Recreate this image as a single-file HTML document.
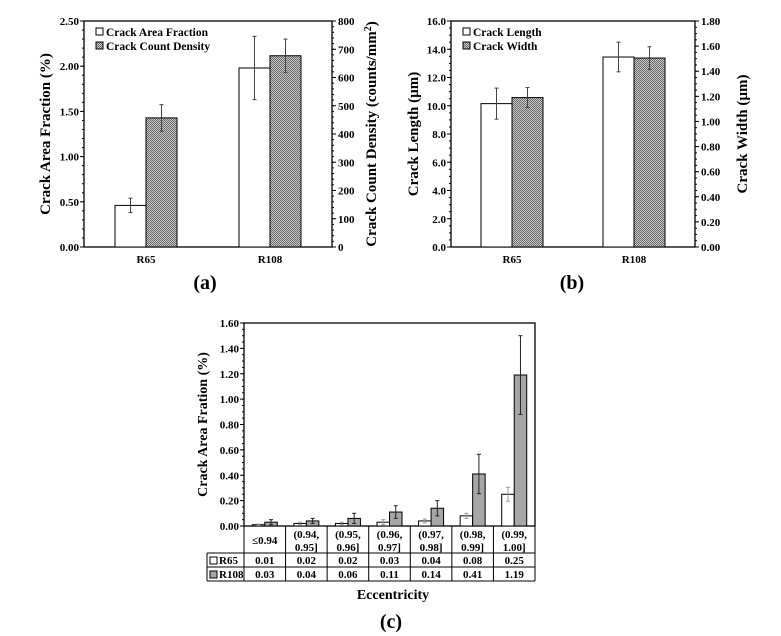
<!DOCTYPE html>
<html><head><meta charset="utf-8"><style>
body{margin:0;background:#fff;}
svg{display:block;font-family:"Liberation Serif",serif;font-weight:bold;}
</style></head><body>
<svg id="s" width="781" height="636" viewBox="0 0 781 636" xmlns="http://www.w3.org/2000/svg">
<defs>
<pattern id="hatch" width="2" height="2" patternUnits="userSpaceOnUse">
<rect width="2" height="2" fill="#c8c8c8"/><rect width="1" height="1" fill="#6a6a6a"/><rect x="1" y="1" width="1" height="1" fill="#6a6a6a"/>
</pattern>
</defs>
</svg>
<script>
// Panel (a)
const catsA = ["R65","R108"];
const areaA = [0.46,1.98];
const areaErrA = [0.08,0.35];
const countA = [457,677];
const countErrA = [47,59];
const ticksAL = ["0.00","0.50","1.00","1.50","2.00","2.50"];
const ticksAR = ["0","100","200","300","400","500","600","700","800"];
// Panel (b)
const catsB = ["R65","R108"];
const lenB = [10.15,13.45];
const lenErrB = [1.1,1.05];
const widB = [1.19,1.505];
const widErrB = [0.08,0.09];
const ticksBL = ["0.0","2.0","4.0","6.0","8.0","10.0","12.0","14.0","16.0"];
const ticksBR = ["0.00","0.20","0.40","0.60","0.80","1.00","1.20","1.40","1.60","1.80"];
// Panel (c)
const catsC = [["≤0.94"],["(0.94,","0.95]"],["(0.95,","0.96]"],["(0.96,","0.97]"],["(0.97,","0.98]"],["(0.98,","0.99]"],["(0.99,","1.00]"]];
const r65C = [0.01,0.02,0.02,0.03,0.04,0.08,0.25];
const r65ErrC = [0.005,0.01,0.01,0.02,0.015,0.02,0.055];
const r108C = [0.03,0.04,0.06,0.11,0.14,0.41,1.19];
const r108ErrC = [0.02,0.02,0.04,0.05,0.06,0.155,0.31];
const ticksC = ["0.00","0.20","0.40","0.60","0.80","1.00","1.20","1.40","1.60"];

const S = document.getElementById('s');
const NS = "http://www.w3.org/2000/svg";
function el(tag, at, txt){const e=document.createElementNS(NS,tag);for(const k in at)e.setAttribute(k,at[k]);if(txt!==undefined)e.textContent=txt;S.appendChild(e);return e;}
function line(x1,y1,x2,y2,c,w){return el('line',{x1,y1,x2,y2,stroke:c||'#000','stroke-width':w||1});}

function dualPanel(o){
  const {L,R,T,B,cats,v1,e1,v2,e2,max1,max2,t1,t2,minor1,minor2,lab1,lab2,leg1,leg2,tag,tagX,lab1X,lab2X,pre,bw} = o;
  const y1=v=>B-(v/max1)*(B-T), y2=v=>B-(v/max2)*(B-T);
  const cw=(R-L)/cats.length;
  const fr=el('rect',{x:L,y:T,width:R-L,height:B-T,fill:'none',stroke:'#000','stroke-width':1.3});
  
  t1.forEach((t,i)=>{const y=B-i*(B-T)/(t1.length-1);line(L-4,y,L,y);
    const tx=el('text',{x:L-5,y:y+4,'font-size':11,'text-anchor':'end'},t);
    });
  for(let i=0;i<=minor1;i++){const y=B-i*(B-T)/minor1;line(L-2,y,L,y);}
  t2.forEach((t,i)=>{const y=B-i*(B-T)/(t2.length-1);line(R,y,R+4,y);
    const tx=el('text',{x:R+6,y:y+4,'font-size':11,'text-anchor':'start'},t);
    });
  for(let i=0;i<=minor2;i++){const y=B-i*(B-T)/minor2;line(R,y,R+2,y);}
  cats.forEach((c,i)=>{
    const cx=L+cw*(i+0.5);
    const b1=el('rect',{x:cx-bw,y:y1(v1[i]),width:bw,height:B-y1(v1[i]),fill:'#fff',stroke:'#000','stroke-width':1});
    
    const b2=el('rect',{x:cx,y:y2(v2[i]),width:bw,height:B-y2(v2[i]),fill:'url(#hatch)',stroke:'#000','stroke-width':1});
    
    const ex1=cx-bw/2, ex2=cx+bw/2;
    line(ex1,y1(v1[i]-e1[i]),ex1,y1(v1[i]+e1[i]),'#444',1);line(ex1-2,y1(v1[i]-e1[i]),ex1+2,y1(v1[i]-e1[i]),'#444');line(ex1-2,y1(v1[i]+e1[i]),ex1+2,y1(v1[i]+e1[i]),'#444');
    line(ex2,y2(v2[i]-e2[i]),ex2,y2(v2[i]+e2[i]),'#444',1);line(ex2-2,y2(v2[i]-e2[i]),ex2+2,y2(v2[i]-e2[i]),'#444');line(ex2-2,y2(v2[i]+e2[i]),ex2+2,y2(v2[i]+e2[i]),'#444');
    const ct=el('text',{x:cx,y:B+16,'font-size':11,'text-anchor':'middle'},c);
    
  });
  const a1=el('text',{transform:`translate(${lab1X},${(T+B)/2}) rotate(-90)`,'font-size':15,'text-anchor':'middle'},lab1);
  
  const a2=el('text',{transform:`translate(${lab2X},${(T+B)/2}) rotate(-90)`,'font-size':15,'text-anchor':'middle'});
  
  a2.innerHTML=lab2;
  const lx=L+12;
  const r1=el('rect',{x:lx,y:T+7,width:7,height:7,fill:'#fff',stroke:'#000'});
  
  const l1=el('text',{x:lx+10,y:T+15,'font-size':11.5},leg1);
  
  const r2=el('rect',{x:lx,y:T+21,width:7,height:7,fill:'url(#hatch)',stroke:'#000'});
  
  const l2=el('text',{x:lx+10,y:T+29,'font-size':11.5},leg2);
  
  const tg=el('text',{x:tagX,y:289,'font-size':20,'text-anchor':'middle'},tag);
  
}

dualPanel({L:84,R:332,T:21,B:247,cats:catsA,v1:areaA,e1:areaErrA,v2:countA,e2:countErrA,max1:2.5,max2:800,
  t1:ticksAL,t2:ticksAR,minor1:25,minor2:40,lab1:"Crack Area Fraction (%)",lab2:'Crack Count Density (counts/mm<tspan dy="-5" font-size="10">2</tspan><tspan dy="5">)</tspan>',
  leg1:"Crack Area Fraction",leg2:"Crack Count Density",tag:"(a)",tagX:205,lab1X:50,lab2X:376,pre:"a-",bw:31});
dualPanel({L:451,R:695,T:21,B:247,cats:catsB,v1:lenB,e1:lenErrB,v2:widB,e2:widErrB,max1:16,max2:1.8,
  t1:ticksBL,t2:ticksBR,minor1:32,minor2:36,lab1:"Crack Length (µm)",lab2:"Crack Width (µm)",
  leg1:"Crack Length",leg2:"Crack Width",tag:"(b)",tagX:572,lab1X:418,lab2X:747,pre:"b-",bw:31});

// Panel (c)
(function(){
  const L=244,R=535,T=323,B=526,max=1.6;
  const y=v=>B-(v/max)*(B-T);
  const cw=(R-L)/catsC.length,bw=12.5;
  const fr=el('rect',{x:L,y:T,width:R-L,height:B-T,fill:'none',stroke:'#000','stroke-width':1.3});
  
  ticksC.forEach((t,i)=>{const yy=B-i*(B-T)/(ticksC.length-1);line(L-4,yy,L,yy);
    const tx=el('text',{x:L-5,y:yy+4,'font-size':11,'text-anchor':'end'},t);
    });
  for(let i=0;i<=32;i++){const yy=B-i*(B-T)/32;line(L-2,yy,L,yy);}
  catsC.forEach((c,i)=>{
    const cx=L+cw*(i+0.5);
    const b1=el('rect',{x:cx-bw,y:y(r65C[i]),width:bw,height:B-y(r65C[i]),fill:'#fff',stroke:'#000'});
    
    const b2=el('rect',{x:cx,y:y(r108C[i]),width:bw,height:B-y(r108C[i]),fill:'#a6a6a6',stroke:'#000'});
    
    [[cx-bw/2,r65C[i],r65ErrC[i],'#999'],[cx+bw/2,r108C[i],r108ErrC[i],'#222']].forEach(([x,v,e,col])=>{
      line(x,y(v-e),x,y(v+e),col);line(x-2,y(v-e),x+2,y(v-e),col);line(x-2,y(v+e),x+2,y(v+e),col);});
    line(L+cw*(i+1),B,L+cw*(i+1),581);
    c.forEach((s,k)=>{const tx=el('text',{x:cx,y:(c.length==1?544:538+k*13),'font-size':11,'text-anchor':'middle'},s);
      });
    const v1=el('text',{x:cx,y:564,'font-size':11,'text-anchor':'middle'},r65C[i].toFixed(2));
    
    const v2=el('text',{x:cx,y:578,'font-size':11,'text-anchor':'middle'},r108C[i].toFixed(2));
    
  });
  line(L,B,L,581);line(207,553,R,553);line(207,567,R,567);line(207,581,R,581);line(207,553,207,581);line(R,B,R,581);
  const s1=el('rect',{x:210,y:557,width:7,height:7,fill:'#fff',stroke:'#000'});
  
  const t1=el('text',{x:219,y:564,'font-size':11},"R65");
  
  const s2=el('rect',{x:210,y:571,width:7,height:7,fill:'#a6a6a6',stroke:'#000'});
  
  const t2=el('text',{x:219,y:578,'font-size':11},"R108");
  
  const xt=el('text',{x:393,y:599,'font-size':14,'text-anchor':'middle'},"Eccentricity");
  
  const yt=el('text',{transform:`translate(207,${(T+B)/2}) rotate(-90)`,'font-size':14,'text-anchor':'middle'},"Crack Area Fration (%)");
  
  const tg=el('text',{x:391,y:628,'font-size':20,'text-anchor':'middle'},"(c)");
  
})();
</script>
</body></html>
